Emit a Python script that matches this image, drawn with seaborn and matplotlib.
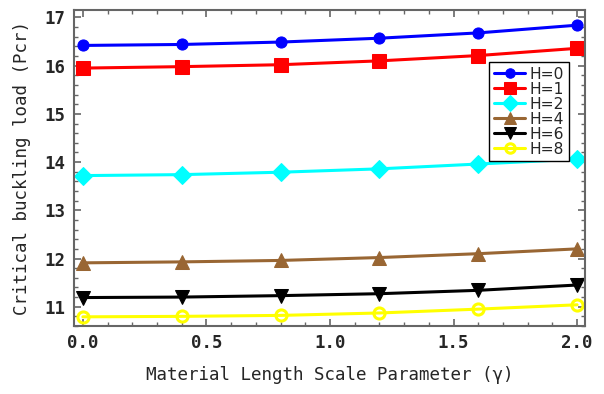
import matplotlib
matplotlib.use("Agg")
import matplotlib.pyplot as plt
import seaborn as sns
import pandas as pd
from matplotlib.ticker import MultipleLocator

gamma = [0.0, 0.4, 0.8, 1.2, 1.6, 2.0]
h0 = [16.42, 16.44, 16.49, 16.57, 16.68, 16.84]
h1 = [15.95, 15.98, 16.02, 16.10, 16.21, 16.36]
h2 = [13.72, 13.74, 13.79, 13.86, 13.96, 14.06]
h4 = [11.91, 11.93, 11.96, 12.02, 12.10, 12.20]
h6 = [11.19, 11.20, 11.23, 11.27, 11.34, 11.45]
h8 = [10.79, 10.80, 10.82, 10.87, 10.95, 11.04]
labels = ["H=0", "H=1", "H=2", "H=4", "H=6", "H=8"]
series = [h0, h1, h2, h4, h6, h8]

sns.set_theme(style="white")
plt.rcParams['font.family'] = ['DejaVu Sans']

fig = plt.figure(figsize=(6.04, 3.94), dpi=100)
ax = fig.add_axes([74/604, 1-326/394, (585-74)/604, (326-10)/394])

styles = [
    dict(color="#0000ff", marker="o", markersize=8, markerfacecolor="#0000ff", markeredgecolor="#0000ff"),
    dict(color="#ff0000", marker="s", markersize=10, markerfacecolor="#ff0000", markeredgecolor="#ff0000"),
    dict(color="#00ffff", marker="D", markersize=9, markerfacecolor="#00ffff", markeredgecolor="#00ffff"),
    dict(color="#996633", marker="^", markersize=10, markerfacecolor="#996633", markeredgecolor="#996633"),
    dict(color="#000000", marker="v", markersize=10, markerfacecolor="#000000", markeredgecolor="#000000"),
    dict(color="#ffff00", marker="o", markersize=8, markerfacecolor="none", markeredgecolor="#ffff00", markeredgewidth=2.2),
]

for lab, vals, st in zip(labels, series, styles):
    df = pd.DataFrame({"gamma": gamma, "P": vals})
    sns.lineplot(data=df, x="gamma", y="P", ax=ax, label=lab, linewidth=2.2, **st)

ax.set_xlim(-0.036, 2.032)
ax.set_ylim(10.6, 17.155)
ax.xaxis.set_major_locator(MultipleLocator(0.5))
ax.xaxis.set_minor_locator(MultipleLocator(0.1))
ax.yaxis.set_major_locator(MultipleLocator(1))
ax.yaxis.set_minor_locator(MultipleLocator(0.2))

mono = ['DejaVu Sans Mono']
ax.tick_params(which="both", direction="in", top=True, right=True, bottom=True, left=True, color="#666666")
ax.tick_params(which="major", length=5, width=1.2, labelsize=12.5, pad=6)
ax.tick_params(which="minor", length=3, width=1.0)
ax.xaxis.set_major_formatter(matplotlib.ticker.FormatStrFormatter('%.1f'))
ax.yaxis.set_major_formatter(matplotlib.ticker.FormatStrFormatter('%d'))
for t in ax.get_xticklabels() + ax.get_yticklabels():
    t.set_family(mono)
    t.set_fontweight("bold")

for s in ax.spines.values():
    s.set_color("#666666")
    s.set_linewidth(1.5)

ax.set_xlabel("Material Length Scale Parameter (\u03b3)", family=mono, fontsize=12.6, labelpad=10)
ax.set_ylabel("Critical buckling load (Pcr)", family=mono, fontsize=12.6, labelpad=10)

leg = ax.legend(loc="upper right", bbox_to_anchor=(0.9687, 0.835), fontsize=11.2,
                frameon=True, fancybox=False, edgecolor="black", framealpha=1,
                labelspacing=0.0, handlelength=2.0, handletextpad=0.3,
                borderpad=0.3, borderaxespad=0.0, markerscale=0.85)
leg.get_frame().set_linewidth(1.0)

fig.savefig("out.png", dpi=100)
